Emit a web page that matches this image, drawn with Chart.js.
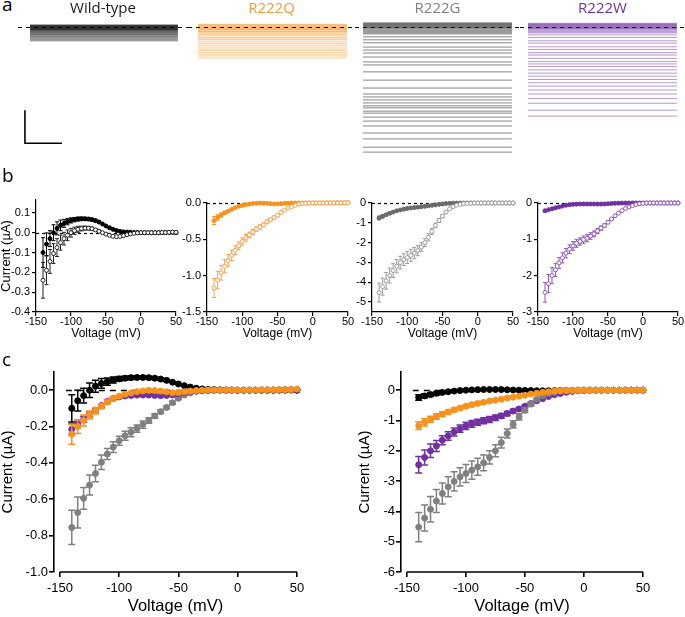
<!DOCTYPE html>
<html>
<head>
<meta charset="utf-8">
<script src="https://cdn.jsdelivr.net/npm/chart.js@4.4.1/dist/chart.umd.min.js"></script>
<style>
  html, body { margin: 0; padding: 0; background: #fff; }
  #fig { position: relative; width: 685px; height: 617px; overflow: hidden; }
  #fig canvas { position: absolute; }
  .panel-label { position: absolute; font-family: "Open Sans", sans-serif; font-size: 19px; line-height: 1; color: #000; }
</style>
</head>
<body>
<div id="fig">
  <canvas id="traceWT" width="170" height="165" style="left:18px; top:0px"></canvas>
  <canvas id="traceQ" width="167" height="165" style="left:188px; top:0px"></canvas>
  <canvas id="traceG" width="165" height="165" style="left:355px; top:0px"></canvas>
  <canvas id="traceW" width="165" height="165" style="left:520px; top:0px"></canvas>

  <canvas id="ivWT" width="185" height="155" style="left:0px; top:190px"></canvas>
  <canvas id="ivQ" width="180" height="155" style="left:178px; top:190px"></canvas>
  <canvas id="ivG" width="180" height="155" style="left:345px; top:190px"></canvas>
  <canvas id="ivW" width="175" height="155" style="left:510px; top:190px"></canvas>

  <canvas id="ivSolid" width="310" height="257" style="left:0px; top:360px"></canvas>
  <canvas id="ivOpen" width="345" height="257" style="left:340px; top:360px"></canvas>

  <div class="panel-label" style="left:2px; top:-5px">a</div>
  <div class="panel-label" style="left:2px; top:166px">b</div>
  <div class="panel-label" style="left:2px; top:350px">c</div>
</div>

<script>
// voltage steps (mV)
const voltages = [-140, -135, -130, -125, -120, -115, -110, -105, -100, -95,
  -90, -85, -80, -75, -70, -65, -60, -55, -50, -45,
  -40, -35, -30, -25, -20, -15, -10, -5, 0, 5,
  10, 15, 20, 25, 30, 35, 40, 45, 50];
const xTicks = [-150, -100, -50, 0, 50];

// currents (µA), filled symbols
const wtSolid = [-0.100, -0.058, -0.030, 0.000, 0.022, 0.037, 0.047, 0.056, 0.062, 0.066,
  0.069, 0.070, 0.070, 0.069, 0.066, 0.061, 0.054, 0.044, 0.034, 0.025,
  0.017, 0.011, 0.007, 0.004, 0.003, 0.002, 0.001, 0.001, 0.000, 0.000,
  0.000, 0.000, 0.000, 0.000, 0.000, 0.001, 0.001, 0.002, 0.000];
const wtSolidErr = [0.075, 0.057, 0.040, 0.040, 0.033, 0.027, 0.020, 0.016, 0.013, 0.011,
  0.010, 0.009, 0.008, 0.008, 0.007, 0.007, 0.006, 0.005, 0.005, 0.004,
  0.003, 0.003, 0.002, 0.002, 0.002, 0.002, 0.001, 0.001, 0.001, 0.001,
  0.001, 0.001, 0.001, 0.001, 0.001, 0.001, 0.001, 0.001, 0.001];
const qSolid = [-0.242, -0.200, -0.167, -0.136, -0.113, -0.088, -0.065, -0.046, -0.033, -0.023,
  -0.015, -0.008, -0.004, -0.001, -0.002, -0.005, -0.009, -0.014, -0.013, -0.009,
  -0.005, -0.002, 0.000, 0.001, 0.001, 0.001, 0.001, 0.001, 0.001, 0.001,
  0.001, 0.001, 0.002, 0.002, 0.002, 0.003, 0.003, 0.004, 0.006];
const qSolidErr = [0.055, 0.038, 0.030, 0.022, 0.018, 0.014, 0.011, 0.009, 0.007, 0.006,
  0.005, 0.005, 0.004, 0.004, 0.004, 0.004, 0.004, 0.004, 0.003, 0.003,
  0.003, 0.003, 0.003, 0.002, 0.002, 0.002, 0.002, 0.002, 0.002, 0.002,
  0.002, 0.002, 0.002, 0.002, 0.002, 0.002, 0.002, 0.002, 0.002];
const gSolid = [-0.755, -0.673, -0.595, -0.522, -0.458, -0.396, -0.351, -0.313, -0.278, -0.251,
  -0.231, -0.211, -0.189, -0.167, -0.142, -0.118, -0.095, -0.069, -0.045, -0.027,
  -0.015, -0.007, -0.004, -0.002, -0.001, 0.000, 0.000, 0.000, 0.000, 0.000,
  0.000, 0.000, 0.000, 0.000, 0.000, 0.000, 0.000, 0.000, 0.000];
const gSolidErr = [0.094, 0.085, 0.060, 0.055, 0.045, 0.040, 0.030, 0.030, 0.025, 0.025,
  0.025, 0.020, 0.020, 0.015, 0.012, 0.010, 0.009, 0.008, 0.006, 0.005,
  0.004, 0.003, 0.002, 0.002, 0.002, 0.002, 0.002, 0.002, 0.002, 0.002,
  0.002, 0.002, 0.002, 0.002, 0.002, 0.002, 0.002, 0.002, 0.002];
const wSolid = [-0.215, -0.185, -0.160, -0.133, -0.110, -0.084, -0.061, -0.046, -0.037, -0.032,
  -0.029, -0.027, -0.027, -0.027, -0.029, -0.030, -0.029, -0.026, -0.020, -0.013,
  -0.007, -0.004, -0.002, -0.001, 0.000, 0.000, 0.000, 0.000, 0.000, 0.000,
  0.000, 0.000, 0.001, 0.001, 0.001, 0.001, 0.002, 0.002, 0.003];
const wSolidErr = [0.030, 0.022, 0.017, 0.014, 0.012, 0.010, 0.008, 0.007, 0.006, 0.006,
  0.005, 0.005, 0.005, 0.005, 0.005, 0.005, 0.005, 0.004, 0.004, 0.003,
  0.003, 0.002, 0.002, 0.002, 0.002, 0.002, 0.002, 0.002, 0.002, 0.002,
  0.002, 0.002, 0.002, 0.002, 0.002, 0.002, 0.002, 0.002, 0.002];

// currents (µA), open symbols
const wtOpen = [-0.240, -0.190, -0.145, -0.105, -0.075, -0.050, -0.030, -0.013, 0.000, 0.010,
  0.017, 0.021, 0.023, 0.023, 0.020, 0.014, 0.007, 0.000, -0.007, -0.013,
  -0.018, -0.020, -0.019, -0.015, -0.010, -0.006, -0.003, -0.001, 0.000, 0.000,
  0.000, 0.000, 0.000, 0.000, 0.001, 0.001, 0.002, 0.003, 0.002];
const wtOpenErr = [0.090, 0.072, 0.060, 0.050, 0.045, 0.038, 0.032, 0.027, 0.022, 0.018,
  0.015, 0.012, 0.010, 0.009, 0.008, 0.007, 0.006, 0.005, 0.005, 0.004,
  0.004, 0.004, 0.003, 0.003, 0.003, 0.002, 0.002, 0.002, 0.002, 0.002,
  0.002, 0.002, 0.002, 0.002, 0.002, 0.002, 0.002, 0.002, 0.002];
const qOpen = [-1.17, -1.06, -0.96, -0.87, -0.79, -0.72, -0.65, -0.59, -0.53, -0.48,
  -0.44, -0.40, -0.36, -0.33, -0.30, -0.26, -0.23, -0.20, -0.17, -0.13,
  -0.10, -0.07, -0.05, -0.03, -0.015, -0.008, -0.004, -0.002, 0.000, 0.000,
  0.000, 0.000, 0.000, 0.000, 0.000, 0.001, 0.001, 0.002, 0.002];
const qOpenErr = [0.13, 0.12, 0.10, 0.09, 0.08, 0.07, 0.06, 0.055, 0.05, 0.045,
  0.04, 0.035, 0.03, 0.03, 0.025, 0.025, 0.02, 0.02, 0.015, 0.015,
  0.01, 0.01, 0.008, 0.006, 0.005, 0.004, 0.003, 0.003, 0.002, 0.002,
  0.002, 0.002, 0.002, 0.002, 0.002, 0.002, 0.002, 0.002, 0.002];
const gOpen = [-4.52, -4.22, -3.93, -3.66, -3.41, -3.19, -3.01, -2.86, -2.75, -2.64,
  -2.53, -2.40, -2.22, -2.00, -1.73, -1.43, -1.13, -0.88, -0.66, -0.46,
  -0.30, -0.19, -0.11, -0.07, -0.03, -0.02, -0.01, 0.00, 0.00, 0.00,
  0.00, 0.00, 0.00, 0.00, 0.00, 0.00, 0.00, 0.00, 0.00];
const gOpenErr = [0.48, 0.43, 0.42, 0.38, 0.35, 0.33, 0.32, 0.30, 0.30, 0.30,
  0.28, 0.26, 0.22, 0.20, 0.18, 0.15, 0.12, 0.10, 0.08, 0.06,
  0.04, 0.03, 0.02, 0.015, 0.01, 0.008, 0.006, 0.004, 0.003, 0.002,
  0.002, 0.002, 0.002, 0.002, 0.002, 0.002, 0.002, 0.002, 0.002];
const wOpen = [-2.46, -2.22, -2.00, -1.84, -1.65, -1.51, -1.38, -1.27, -1.18, -1.11,
  -1.06, -1.01, -0.97, -0.91, -0.85, -0.77, -0.69, -0.62, -0.53, -0.44,
  -0.35, -0.28, -0.21, -0.15, -0.11, -0.07, -0.04, -0.02, -0.01, 0.00,
  0.00, 0.00, 0.00, 0.00, 0.00, 0.00, 0.00, 0.00, 0.00];
const wOpenErr = [0.27, 0.25, 0.22, 0.18, 0.15, 0.14, 0.13, 0.12, 0.12, 0.11,
  0.10, 0.10, 0.10, 0.09, 0.08, 0.07, 0.06, 0.05, 0.04, 0.035,
  0.03, 0.025, 0.02, 0.015, 0.01, 0.008, 0.006, 0.004, 0.003, 0.002,
  0.002, 0.002, 0.002, 0.002, 0.002, 0.002, 0.002, 0.002, 0.002];

// panel a: current level of each recorded sweep (µA), sweep time (ms)
const traceTime = [0, 1000];
const wtTraces = [0.06, 0.05, 0.04, 0.03, 0.02, 0.01, 0.0, -0.01, -0.02, -0.03, -0.04, -0.05,
  -0.06, -0.07, -0.08, -0.09, -0.1, -0.12, -0.13, -0.15, -0.17, -0.19, -0.21, -0.23,
  -0.25, -0.28, -0.3, -0.33, -0.36, -0.39, -0.42];
const qTraces = [0.08, 0.06, 0.05, 0.03, 0.02, 0.0, -0.02, -0.03, -0.05, -0.06, -0.08, -0.09,
  -0.12, -0.14, -0.15, -0.18, -0.21, -0.24, -0.27, -0.32, -0.36, -0.39, -0.45, -0.5,
  -0.55, -0.61, -0.67, -0.71, -0.77, -0.83, -0.88, -0.94];
const gTraces = [0.12, 0.11, 0.09, 0.08, 0.06, 0.05, 0.03, 0.02, 0.0, -0.02, -0.03, -0.06,
  -0.09, -0.12, -0.15, -0.18, -0.21, -0.3, -0.39, -0.48, -0.61, -0.7, -0.79, -0.91,
  -1.06, -1.15, -1.36, -1.61, -1.85, -2.03, -2.12, -2.21, -2.3, -2.39, -2.45, -2.55,
  -2.61, -2.73, -2.85, -3.0, -3.21, -3.39, -3.64, -3.79];
const wTraces = [0.11, 0.09, 0.08, 0.06, 0.05, 0.03, 0.02, 0.0, -0.02, -0.03, -0.05, -0.06,
  -0.09, -0.12, -0.15, -0.18, -0.24, -0.32, -0.42, -0.49, -0.6, -0.68, -0.78, -0.85,
  -0.95, -1.05, -1.12, -1.2, -1.3, -1.4, -1.49, -1.59, -1.69, -1.79, -1.91, -2.03,
  -2.17, -2.31, -2.52, -2.7];

const BLACK = '#000000';
const ORANGE = '#F7921E';
const PURPLE = '#7030A0';
const GRAY = '#808080';

Chart.defaults.font.family = '"Liberation Sans", Arial, sans-serif';
Chart.defaults.color = '#000';
Chart.defaults.animation = false;

// error bars with caps, drawn under each dataset's symbols
const errorBars = {
  id: 'errorBars',
  beforeDatasetDraw(chart, args) {
    const ds = chart.data.datasets[args.index];
    if (!ds.err) return;
    const ctx = chart.ctx;
    const yScale = chart.scales.y;
    const cap = ds.capWidth / 2;
    ctx.save();
    ctx.strokeStyle = ds.errColor;
    ctx.lineWidth = ds.errWidth;
    args.meta.data.forEach((pt, i) => {
      const v = ds.data[i].y;
      const e = ds.err[i];
      const top = yScale.getPixelForValue(v + e);
      const bot = yScale.getPixelForValue(v - e);
      if (bot - top < 2) return;
      ctx.beginPath();
      ctx.moveTo(pt.x, top); ctx.lineTo(pt.x, bot);
      ctx.moveTo(pt.x - cap, top); ctx.lineTo(pt.x + cap, top);
      ctx.moveTo(pt.x - cap, bot); ctx.lineTo(pt.x + cap, bot);
      ctx.stroke();
    });
    ctx.restore();
  }
};

function drawZero(chart, opts) {
  const { ctx, chartArea, scales } = chart;
  const y = Math.round(scales.y.getPixelForValue(0)) + 0.5;
  const x0 = opts.from != null ? scales.x.getPixelForValue(opts.from) : chartArea.left;
  const x1 = opts.to != null ? scales.x.getPixelForValue(opts.to) : chartArea.right;
  ctx.save();
  ctx.strokeStyle = '#000';
  ctx.lineWidth = opts.width || 1;
  ctx.setLineDash(opts.dash || [3, 3]);
  ctx.beginPath();
  ctx.moveTo(x0, y);
  ctx.lineTo(x1, y);
  ctx.stroke();
  ctx.restore();
}

// dashed zero-current reference line
const zeroLine = {
  id: 'zeroLine',
  beforeDatasetsDraw(chart, args, opts) { if (!opts.onTop) drawZero(chart, opts); },
  afterDatasetsDraw(chart, args, opts) { if (opts.onTop) drawZero(chart, opts); }
};

// x axis that starts at -150 while the y axis sits a bit to the left
const xAxisLine = {
  id: 'xAxisLine',
  afterDraw(chart, args, opts) {
    const { ctx, chartArea, scales } = chart;
    ctx.save();
    ctx.strokeStyle = '#000';
    ctx.lineWidth = opts.width;
    ctx.beginPath();
    ctx.moveTo(scales.x.getPixelForValue(opts.from), chartArea.bottom);
    ctx.lineTo(scales.x.getPixelForValue(opts.to), chartArea.bottom);
    ctx.stroke();
    ctx.restore();
  }
};

// L-shaped scale bar
const scaleBar = {
  id: 'scaleBar',
  afterDraw(chart, args, opts) {
    const { ctx, scales } = chart;
    const x0 = scales.x.getPixelForValue(opts.x);
    const x1 = scales.x.getPixelForValue(opts.x + opts.dx);
    const y0 = scales.y.getPixelForValue(opts.y);
    const y1 = scales.y.getPixelForValue(opts.y + opts.dy);
    ctx.save();
    ctx.strokeStyle = '#000';
    ctx.lineWidth = 1.6;
    ctx.beginPath();
    ctx.moveTo(x0, y1); ctx.lineTo(x0, y0); ctx.lineTo(x1, y0);
    ctx.stroke();
    ctx.restore();
  }
};

function drawTraces(canvasId, title, titleColor, levels, lineColor, xMin, xMax, bar) {
  const datasets = levels.map(level => ({
    data: traceTime.map(t => ({ x: t, y: level })),
    showLine: true,
    borderColor: lineColor,
    borderWidth: 1,
    pointRadius: 0
  }));

  new Chart(document.getElementById(canvasId), {
    type: 'scatter',
    data: { datasets },
    options: {
      responsive: false,
      devicePixelRatio: 1,
      events: [],
      layout: { padding: 0 },
      plugins: {
        legend: { display: false },
        tooltip: { enabled: false },
        title: {
          display: true, text: title, color: titleColor,
          font: { family: '"Open Sans", sans-serif', size: 15, weight: 'normal', lineHeight: 1.2 },
          padding: { top: 0, bottom: 3 }
        },
        zeroLine: { onTop: true, dash: [4, 4], width: 1.2 },
        scaleBar: bar
      },
      scales: {
        x: { type: 'linear', display: false, min: xMin, max: xMax },
        y: { type: 'linear', display: false, min: -4.18, max: 0.18 }
      }
    },
    plugins: [zeroLine, scaleBar]
  });
}

function series(values, errors, color, look) {
  return {
    data: voltages.map((v, i) => ({ x: v, y: values[i] })),
    err: errors,
    errColor: color,
    errWidth: look.errWidth,
    capWidth: look.cap,
    pointRadius: look.r,
    pointBorderWidth: 1,
    pointBorderColor: color,
    pointBackgroundColor: look.open ? '#ffffff' : color,
    showLine: false,
    clip: false
  };
}

function drawIV(canvasId, o) {
  new Chart(document.getElementById(canvasId), {
    type: 'scatter',
    data: { datasets: o.datasets },
    options: {
      responsive: false,
      devicePixelRatio: 1,
      events: [],
      layout: { padding: { top: o.padTop, right: o.padRight, left: 0, bottom: 0 } },
      plugins: {
        legend: { display: false },
        tooltip: { enabled: false },
        zeroLine: { from: o.dashFrom, to: o.dashTo, dash: o.dash, width: o.axisWidth },
        xAxisLine: o.offsetX ? { from: -150, to: 50, width: o.axisWidth } : false
      },
      scales: {
        x: {
          type: 'linear', min: o.xMin, max: 50,
          afterBuildTicks: s => { s.ticks = xTicks.map(v => ({ value: v })); },
          afterFit: s => { s.height = o.xHeight; },
          border: { display: !o.offsetX, color: '#000', width: o.axisWidth },
          grid: { drawOnChartArea: false, color: '#000', lineWidth: o.axisWidth, tickLength: o.tickLen },
          ticks: { font: { size: o.tickSize }, padding: o.xTickPad, maxRotation: 0, autoSkip: false, callback: v => String(v) },
          title: {
            display: true, text: 'Voltage (mV)',
            font: { size: o.xTitleSize, lineHeight: 1 },
            padding: { top: 0, bottom: o.xTitlePad }
          }
        },
        y: {
          type: 'linear', min: o.yMin, max: o.yMax,
          afterBuildTicks: s => { s.ticks = o.yTicks.map(v => ({ value: v })); },
          afterFit: s => { s.width = o.yWidth; },
          border: { color: '#000', width: o.axisWidth },
          grid: { drawOnChartArea: false, color: '#000', lineWidth: o.axisWidth, tickLength: o.tickLen },
          ticks: { font: { size: o.tickSize }, padding: o.yTickPad, autoSkip: false, callback: v => v.toFixed(o.decimals) },
          title: {
            display: !!o.yTitle, text: o.yTitle || '',
            font: { size: o.yTitleSize, lineHeight: 1 },
            padding: { top: o.yTitlePad, bottom: 0 }
          }
        }
      }
    },
    plugins: [errorBars, zeroLine, xAxisLine]
  });
}

// ---- panel a ----
drawTraces('traceWT', 'Wild-type', '#1a1a1a', wtTraces, 'rgba(0,0,0,0.45)', -81, 1068,
  { x: -34, y: -3.52, dx: 250, dy: 1 });
drawTraces('traceQ', 'R222Q', '#F79A3E', qTraces, 'rgba(247,146,30,0.45)', -67, 1054, false);
drawTraces('traceG', 'R222G', '#808080', gTraces, 'rgba(95,95,95,0.75)', -54, 1054, false);
drawTraces('traceW', 'R222W', PURPLE, wTraces, 'rgba(112,48,160,0.5)', -54, 1054, false);

// ---- panel b ----
const smallSolid = { r: 2, cap: 4, errWidth: 1, open: false };
const smallOpen = { r: 2, cap: 4, errWidth: 1, open: true };
const bCommon = {
  xMin: -150, xHeight: 33, tickLen: 4, tickSize: 11, xTickPad: -1, yTickPad: 2,
  xTitleSize: 12, xTitlePad: 5, axisWidth: 1.2, dash: [3, 3], dashFrom: -150, dashTo: 50
};

drawIV('ivWT', Object.assign({}, bCommon, {
  datasets: [series(wtOpen, wtOpenErr, '#222222', smallOpen), series(wtSolid, wtSolidErr, BLACK, smallSolid)],
  padTop: 10, padRight: 9, yWidth: 36, yMin: -0.4, yMax: 0.165,
  yTicks: [-0.4, -0.3, -0.2, -0.1, 0, 0.1], decimals: 1,
  yTitle: 'Current (µA)', yTitleSize: 13, yTitlePad: 0
}));
drawIV('ivQ', Object.assign({}, bCommon, {
  datasets: [series(qOpen, qOpenErr, '#F7A04A', smallOpen), series(qSolid, qSolidErr, ORANGE, smallSolid)],
  padTop: 13, padRight: 10, yWidth: 29, yMin: -1.5, yMax: 0,
  yTicks: [-1.5, -1, -0.5, 0], decimals: 1
}));
drawIV('ivG', Object.assign({}, bCommon, {
  datasets: [series(gOpen, gOpenErr, '#9C9C9C', smallOpen), series(gSolid, gSolidErr, '#6A6A6A', smallSolid)],
  padTop: 13, padRight: 12, yWidth: 27, yMin: -5.5, yMax: 0,
  yTicks: [-5, -4, -3, -2, -1, 0], decimals: 0
}));
drawIV('ivW', Object.assign({}, bCommon, {
  datasets: [series(wOpen, wOpenErr, '#9159BF', smallOpen), series(wSolid, wSolidErr, PURPLE, smallSolid)],
  padTop: 13, padRight: 7, yWidth: 28, yMin: -3, yMax: 0,
  yTicks: [-3, -2, -1, 0], decimals: 0
}));

// ---- panel c ----
const big = { r: 3, cap: 7, errWidth: 1.5, open: false };
const cCommon = {
  xMin: -155, offsetX: true, xHeight: 45, tickLen: 5, tickSize: 13, xTickPad: 4, yTickPad: 1,
  xTitleSize: 16.5, xTitlePad: 2, axisWidth: 1.6, dash: [6, 5], dashFrom: -145, dashTo: 52,
  padTop: 12, yTitle: 'Current (µA)', yTitleSize: 15
};

drawIV('ivSolid', Object.assign({}, cCommon, {
  datasets: [
    series(qSolid, qSolidErr, ORANGE, big),
    series(wSolid, wSolidErr, PURPLE, big),
    series(wtSolid, wtSolidErr, BLACK, big),
    series(gSolid, gSolidErr, GRAY, big)
  ],
  padRight: 13, yWidth: 54, yMin: -1.0, yMax: 0.1,
  yTicks: [-1, -0.8, -0.6, -0.4, -0.2, 0], decimals: 1, yTitlePad: 0
}));
drawIV('ivOpen', Object.assign({}, cCommon, {
  datasets: [
    series(qOpen, qOpenErr, ORANGE, big),
    series(gOpen, gOpenErr, GRAY, big),
    series(wOpen, wOpenErr, PURPLE, big),
    series(wtOpen, wtOpenErr, BLACK, big)
  ],
  padRight: 42, yWidth: 61, yMin: -6, yMax: 0.6,
  yTicks: [-6, -5, -4, -3, -2, -1, 0], decimals: 0, yTitlePad: 17
}));
</script>
</body>
</html>
